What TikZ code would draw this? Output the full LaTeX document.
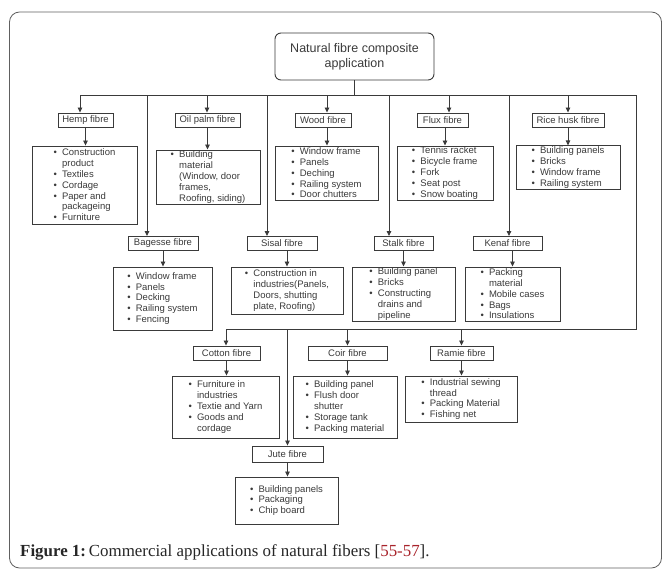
\documentclass[tikz,border=0pt]{standalone}
\usepackage{fontspec}
\setmainfont{Liberation Sans}
\newfontfamily\capfont{Liberation Serif}
\usetikzlibrary{arrows.meta}

\definecolor{ink}{HTML}{3A3A3A}
\definecolor{capred}{HTML}{A8232B}
\newcommand{\itemb}{\makebox[8.5pt][l]{\textbullet}}
\newcommand{\contb}{\hspace*{8.5pt}}

\begin{document}
\begin{tikzpicture}[x=1pt,y=-1pt,
  lbl/.style={draw=ink,line width=0.9pt,text=ink,inner sep=1pt,minimum height=14pt,font=\fontsize{9.5}{10.8}\selectfont},
  lst/.style={draw=ink,line width=0.9pt,text=ink,inner sep=1pt,align=left,font=\fontsize{9.5}{10.8}\selectfont},
  ln/.style={draw=ink,line width=0.8pt},
  arr/.style={ln,-{Triangle[length=5pt,width=4.5pt]}}]
\useasboundingbox (0,0) rectangle (662,570);
\draw[gray!75!black,line width=0.8pt,rounded corners=10pt] (9.5,12) rectangle (661.5,568);

% root
\node[draw=ink,line width=0.9pt,text=ink,rounded corners=6pt,minimum width=159pt,minimum height=47pt,align=center,font=\fontsize{12.5}{15}\selectfont] (N) at (354.5,56.5) {Natural fibre composite\\application};

% first row
\node[lbl,minimum width=55pt] (He) at (85.5,120) {Hemp fibre};
\node[lbl,minimum width=65pt] (Op) at (207.5,120) {Oil palm fibre};
\node[lbl,minimum width=56pt] (Wo) at (323,120) {Wood fibre};
\node[lbl,minimum width=51pt] (Fl) at (442.5,120) {Flux fibre};
\node[lbl,minimum width=72pt] (Rh) at (568,120) {Rice husk fibre};

\node[lst,minimum width=105pt,minimum height=78pt] (HeL) at (84.5,185) {\itemb Construction\\\contb product\\\itemb Textiles\\\itemb Cordage\\\itemb Paper and\\\contb packageing\\\itemb Furniture};
\node[lst,minimum width=104pt,minimum height=54pt] (OpL) at (208,177) {\itemb Building\\\contb material\\\contb (Window, door\\\contb frames,\\\contb Roofing, siding)};
\node[lst,minimum width=103pt,minimum height=54pt] (WoL) at (326.5,173) {\itemb Window frame\\\itemb Panels\\\itemb Deching\\\itemb Railing system\\\itemb Door chutters};
\node[lst,minimum width=96pt,minimum height=54pt] (FlL) at (445,173) {\itemb Tennis racket\\\itemb Bicycle frame\\\itemb Fork\\\itemb Seat post\\\itemb Snow boating};
\node[lst,minimum width=104pt,minimum height=43pt] (RhL) at (568,167.5) {\itemb Building panels\\\itemb Bricks\\\itemb Window frame\\\itemb Railing system};

% second row
\node[lbl,minimum width=70pt] (Ba) at (163,243.5) {Bagesse fibre};
\node[lbl,minimum width=70pt] (Si) at (282,243.5) {Sisal fibre};
\node[lbl,minimum width=59pt] (St) at (403.5,243.5) {Stalk fibre};
\node[lbl,minimum width=69pt] (Ke) at (507.5,243.5) {Kenaf fibre};

\node[lst,minimum width=99pt,minimum height=63pt] (BaL) at (162.5,298.5) {\itemb Window frame\\\itemb Panels\\\itemb Decking\\\itemb Railing system\\\itemb Fencing};
\node[lst,minimum width=112pt,minimum height=47pt] (SiL) at (287,290.5) {\itemb Construction in\\\contb industries(Panels,\\\contb Doors, shutting\\\contb plate, Roofing)};
\node[lst,minimum width=103pt,minimum height=54pt] (StL) at (403.5,294) {\itemb Building panel\\\itemb Bricks\\\itemb Constructing\\\contb drains and\\\contb pipeline};
\node[lst,minimum width=95pt,minimum height=54pt] (KeL) at (512.5,294) {\itemb Packing\\\contb material\\\itemb Mobile cases\\\itemb Bags\\\itemb Insulations};

% third row
\node[lbl,minimum width=67pt] (Co) at (226.5,353) {Cotton fibre};
\node[lbl,minimum width=79pt] (Ci) at (347.5,353) {Coir fibre};
\node[lbl,minimum width=63pt] (Ra) at (461.5,353) {Ramie fibre};
\node[lbl,minimum width=71pt,minimum height=16pt] (Ju) at (287.5,454) {Jute fibre};

\node[lst,minimum width=107pt,minimum height=62pt] (CoL) at (225.5,407) {\itemb Furniture in\\\contb industries\\\itemb Textie and Yarn\\\itemb Goods and\\\contb cordage};
\node[lst,minimum width=104pt,minimum height=62pt] (CiL) at (345,407) {\itemb Building panel\\\itemb Flush door\\\contb shutter\\\itemb Storage tank\\\itemb Packing material};
\node[lst,minimum width=112pt,minimum height=46pt] (RaL) at (461,399) {\itemb Industrial sewing\\\contb thread\\\itemb Packing Material\\\itemb Fishing net};
\node[lst,minimum width=103pt,minimum height=47pt] (JuL) at (286.5,500.5) {\itemb Building panels\\\itemb Packaging\\\itemb Chip board};

% buses
\coordinate (BL) at (80,95);
\coordinate (BR) at (636,95);
\coordinate (R3) at (636,329);
\coordinate (L3) at (226,329);
\draw[ln] (N.south) -- (N.south |- BL);
\draw[ln] (BL) -- (BR) -- (R3) -- (L3);

% drops from the top bus
\coordinate (d1) at (80,95);
\coordinate (d2) at (207,95);
\coordinate (d3) at (327,95);
\coordinate (d4) at (449,95);
\coordinate (d5) at (568,95);
\draw[arr] (d1) -- (d1 |- He.north);
\draw[arr] (d2) -- (d2 |- Op.north);
\draw[arr] (d3) -- (d3 |- Wo.north);
\draw[arr] (d4) -- (d4 |- Fl.north);
\draw[arr] (d5) -- (d5 |- Rh.north);
\coordinate (e1) at (147,95);
\coordinate (e2) at (267,95);
\coordinate (e3) at (389,95);
\coordinate (e4) at (509,95);
\draw[arr] (e1) -- (e1 |- Ba.north);
\draw[arr] (e2) -- (e2 |- Si.north);
\draw[arr] (e3) -- (e3 |- St.north);
\draw[arr] (e4) -- (e4 |- Ke.north);

% drops from the lower bus
\draw[arr] (L3) -- (L3 |- Co.north);
\draw[arr] (Ci.north |- L3) -- (Ci.north);
\draw[arr] (Ra.north |- L3) -- (Ra.north);
\draw[arr] (Ju.north |- L3) -- (Ju.north);

% fibre to uses
\draw[arr] (He) -- (He |- HeL.north);
\draw[arr] (Op) -- (Op |- OpL.north);
\draw[arr] (Wo.south -| d3) -- (d3 |- WoL.north);
\draw[arr] (Fl.south -| FlL.north) -- (FlL.north);
\draw[arr] (Rh) -- (Rh |- RhL.north);
\draw[arr] (Ba) -- (Ba |- BaL.north);
\draw[arr] (Si.south -| SiL.north) -- (SiL.north);
\draw[arr] (St) -- (St |- StL.north);
\draw[arr] (Ke.south -| KeL.north) -- (KeL.north);
\draw[arr] (Co) -- (Co |- CoL.north);
\draw[arr] (Ci) -- (Ci |- CiL.north);
\draw[arr] (Ra) -- (Ra |- RaL.north);
\draw[arr] (Ju) -- (Ju |- JuL.north);

% caption
\node[anchor=base west,inner sep=0pt,text=black!85,font=\capfont\fontsize{16.9}{20}\selectfont] (cap) at (20,556) {\textbf{Figure 1:}\,Commercial applications of natural fibers [\textcolor{capred}{55-57}].};
\end{tikzpicture}
\end{document}
